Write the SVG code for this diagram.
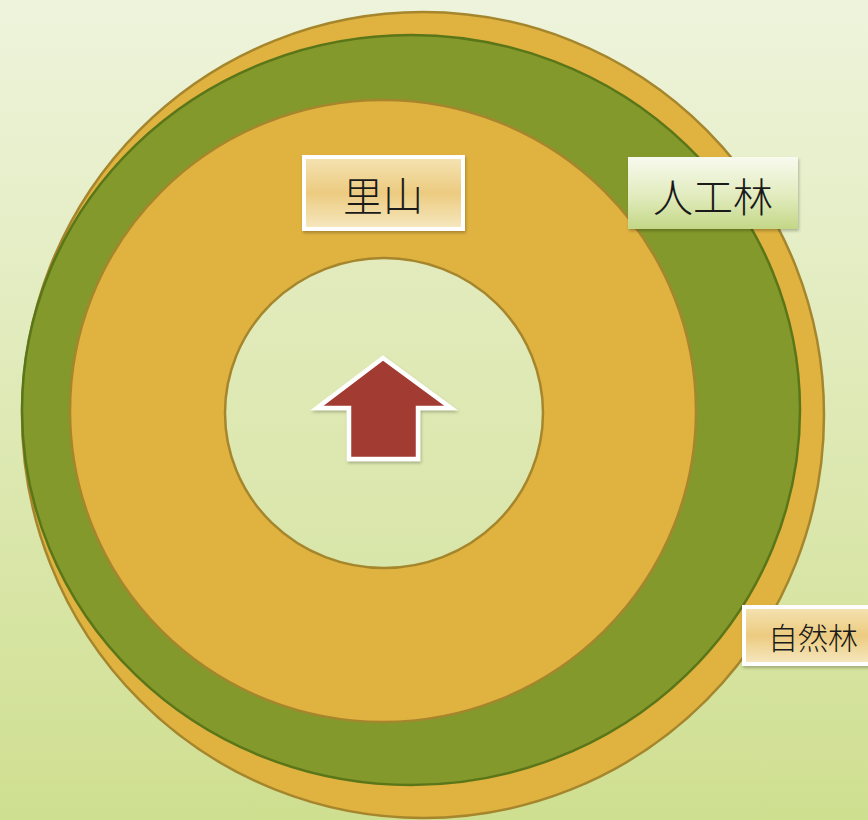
<svg xmlns="http://www.w3.org/2000/svg" width="868" height="820" viewBox="0 0 868 820">
<defs>
<linearGradient id="bg" x1="0" y1="0" x2="0" y2="1">
<stop offset="0" stop-color="#eef4dc"/>
<stop offset="1" stop-color="#cfdf90"/>
</linearGradient>
<linearGradient id="inner" gradientUnits="userSpaceOnUse" x1="0" y1="258" x2="0" y2="568">
<stop offset="0" stop-color="#e3ebbd"/>
<stop offset="1" stop-color="#d9e6a9"/>
</linearGradient>
<linearGradient id="orangeBox" x1="0" y1="0" x2="0" y2="1">
<stop offset="0" stop-color="#f5e3b3"/>
<stop offset="0.5" stop-color="#eccb80"/>
<stop offset="1" stop-color="#f6e8c0"/>
</linearGradient>
<linearGradient id="greenBox" x1="0" y1="0" x2="0" y2="1">
<stop offset="0" stop-color="#f8faee"/>
<stop offset="0.55" stop-color="#e1ebbd"/>
<stop offset="1" stop-color="#c3d786"/>
</linearGradient>
<filter id="sh" x="-10%" y="-10%" width="130%" height="130%">
<feDropShadow dx="1" dy="2" stdDeviation="1.5" flood-color="#000" flood-opacity="0.25"/>
</filter>
</defs>
<style>
.ring-o{fill:#e0b240;stroke:#a5862c;stroke-width:2.5}
.ring-g{fill:#84992b;stroke:#5a7618;stroke-width:2.5}
.lbl{font-family:"Noto Sans CJK JP","Noto Sans CJK SC",sans-serif;fill:#1a1a1a;text-anchor:middle;dominant-baseline:central;font-weight:300}
</style>
<rect x="0" y="0" width="868" height="820" fill="url(#bg)"/>
<g id="shizenrin-ring"><ellipse class="ring-o" cx="423" cy="415" rx="401" ry="403"/></g>
<g id="jinkourin-ring"><ellipse class="ring-g" cx="411" cy="410" rx="389" ry="375"/></g>
<g id="satoyama-ring"><ellipse class="ring-o" cx="383" cy="411" rx="313" ry="311"/></g>
<g id="center"><ellipse cx="384" cy="413" rx="159" ry="155" fill="url(#inner)" stroke="#a5862c" stroke-width="2.5"/></g>
<g id="arrow">
<polygon points="383,358 317,408 349,408 349,459 418,459 418,408 451,408" fill="#a23a30" stroke="#ffffff" stroke-width="4.5" stroke-linejoin="miter" filter="url(#sh)"/>
</g>
<g id="label-satoyama">
<rect x="304" y="157" width="159" height="72" fill="url(#orangeBox)" stroke="#ffffff" stroke-width="4" filter="url(#sh)"/>
<text class="lbl" x="383" y="194" font-size="40">里山</text>
</g>
<g id="label-jinkourin">
<rect x="628" y="157" width="170" height="72" fill="url(#greenBox)" filter="url(#sh)"/>
<text class="lbl" x="713" y="195" font-size="40">人工林</text>
</g>
<g id="label-shizenrin">
<rect x="744" y="607" width="132" height="57" fill="url(#orangeBox)" stroke="#ffffff" stroke-width="4" filter="url(#sh)"/>
<text class="lbl" x="813" y="636" font-size="30">自然林</text>
</g>
</svg>
